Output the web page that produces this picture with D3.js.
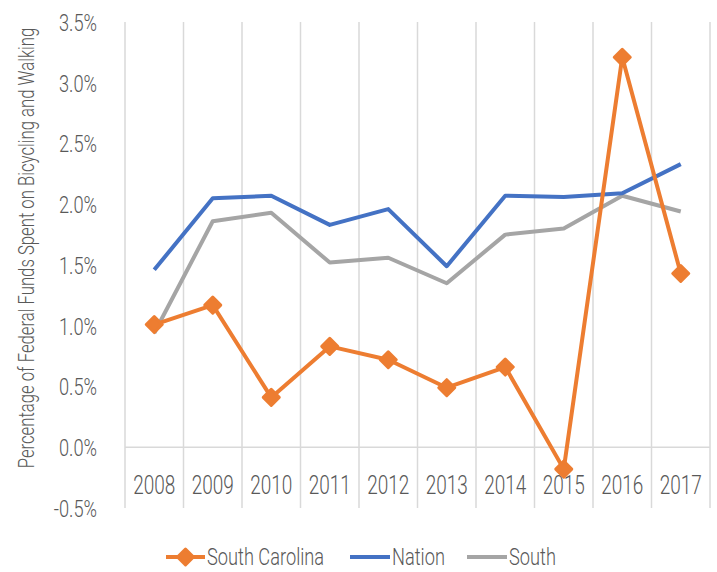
<!DOCTYPE html>
<html>
<head>
<meta charset="utf-8">
<script src="https://cdn.jsdelivr.net/npm/d3@7"></script>
<style>
  body { margin: 0; background: #fff; }
  text { font-family: Roboto, "Liberation Sans", sans-serif; fill: #595959; }
</style>
</head>
<body>
<svg id="chart" width="717" height="572"></svg>
<script>
// dados
const anos = ["2008", "2009", "2010", "2011", "2012", "2013", "2014", "2015", "2016", "2017"];
const southCarolina = [1.01, 1.17, 0.41, 0.83, 0.72, 0.49, 0.66, -0.18, 3.21, 1.43];
const nation = [1.46, 2.05, 2.07, 1.83, 1.96, 1.49, 2.07, 2.06, 2.09, 2.33];
const south = [0.94, 1.86, 1.93, 1.52, 1.56, 1.35, 1.75, 1.80, 2.07, 1.94];
const yTicks = [-0.5, 0, 0.5, 1.0, 1.5, 2.0, 2.5, 3.0, 3.5];

const svg = d3.select("#chart");
const margemEsq = 125, margemDir = 710, topo = 22, base = 508;
const squeeze = 0.76; // fonte condensada simulada

const x = d3.scaleBand().domain(anos).range([margemEsq, margemDir]);
const y = d3.scaleLinear().domain([-0.5, 3.5]).range([base, topo]);

// linhas verticais entre categorias
const bordas = anos.map(a => x(a)).concat([margemDir]);
svg.append("g").selectAll("line")
  .data(bordas)
  .enter().append("line")
  .attr("x1", d => d).attr("x2", d => d)
  .attr("y1", topo).attr("y2", base)
  .style("stroke", "#d9d9d9")
  .style("stroke-width", 1.5);

// linha do zero
svg.append("line")
  .attr("x1", margemEsq).attr("x2", margemDir)
  .attr("y1", y(0)).attr("y2", y(0))
  .style("stroke", "#d9d9d9")
  .style("stroke-width", 1.5);

// eixo y
const eixoY = svg.append("g")
  .attr("transform", `translate(${margemEsq},0)`)
  .call(d3.axisLeft(y).tickValues(yTicks).tickFormat(d => d.toFixed(1) + "%").tickSize(0));
eixoY.select(".domain").remove();
eixoY.selectAll("text")
  .attr("x", 0)
  .attr("dy", "0.35em")
  .attr("transform", `translate(-28,0) scale(${squeeze},1)`)
  .style("font-size", "24px")
  .style("font-weight", 300)
  .style("fill", "#595959")
  .style("font-family", "Roboto, sans-serif");

// rótulos dos anos
svg.append("g").selectAll("text")
  .data(anos)
  .enter().append("text")
  .attr("text-anchor", "middle")
  .attr("transform", d => `translate(${x(d) + x.bandwidth() / 2},494) scale(${squeeze},1)`)
  .style("font-size", "25px")
  .style("font-weight", 300)
  .text(d => d);

// título do eixo y
svg.append("text")
  .attr("text-anchor", "middle")
  .attr("transform", `translate(34,248) rotate(-90) scale(${squeeze},1)`)
  .style("font-size", "22px")
  .style("font-weight", 300)
  .text("Percentage of Federal Funds Spent on Bicycling and Walking");

const linha = d3.line()
  .x((d, i) => x(anos[i]) + x.bandwidth() / 2)
  .y(d => y(d));

const series = [
  { nome: "South", valores: south, cor: "#a5a5a5" },
  { nome: "Nation", valores: nation, cor: "#4472c4" },
  { nome: "South Carolina", valores: southCarolina, cor: "#ed7d31" }
];

series.forEach(s => {
  svg.append("path")
    .datum(s.valores)
    .attr("d", linha)
    .style("fill", "none")
    .style("stroke", s.cor)
    .style("stroke-width", 4)
    .style("stroke-linejoin", "round");
});

const losango = "M0,-8L8,0L0,8L-8,0Z";

svg.append("g").selectAll("path")
  .data(southCarolina)
  .enter().append("path")
  .attr("d", losango)
  .attr("transform", (d, i) => `translate(${x(anos[i]) + x.bandwidth() / 2},${y(d)})`)
  .style("fill", "#ed7d31")
  .style("stroke", "#ed7d31")
  .style("stroke-width", 3)
  .style("stroke-linejoin", "round");

// legenda
const legenda = [
  { nome: "South Carolina", cor: "#ed7d31", x1: 166, x2: 205, marcador: true },
  { nome: "Nation", cor: "#4472c4", x1: 350, x2: 390, marcador: false },
  { nome: "South", cor: "#a5a5a5", x1: 467, x2: 507, marcador: false }
];
const legY = 557;
const leg = svg.append("g").selectAll("g")
  .data(legenda)
  .enter().append("g");
leg.append("line")
  .attr("x1", d => d.x1).attr("x2", d => d.x2)
  .attr("y1", legY).attr("y2", legY)
  .style("stroke", d => d.cor)
  .style("stroke-width", 4);
leg.filter(d => d.marcador).append("path")
  .attr("d", losango)
  .attr("transform", d => `translate(${(d.x1 + d.x2) / 2},${legY})`)
  .style("fill", d => d.cor)
  .style("stroke", d => d.cor)
  .style("stroke-width", 3)
  .style("stroke-linejoin", "round");
leg.append("text")
  .attr("transform", d => `translate(${d.x2 + 2},${legY}) scale(${squeeze},1)`)
  .attr("dy", "0.35em")
  .style("font-size", "24px")
  .style("font-weight", 300)
  .text(d => d.nome);
</script>
</body>
</html>
